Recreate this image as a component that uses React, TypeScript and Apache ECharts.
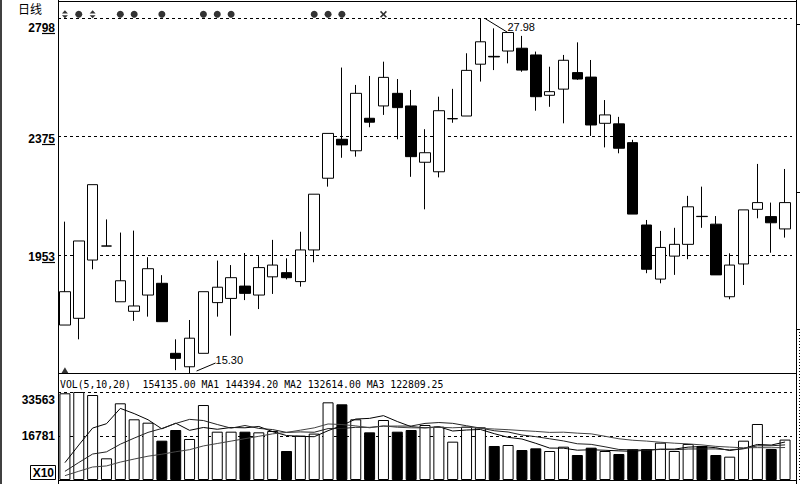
import React, { useEffect, useRef } from "react";
import * as echarts from "echarts";

// ---------- data ----------
const categories = Array.from({ length: 53 }, (_, i) => `D${i + 1}`);

const opens = [17.03, 17.27, 19.35, 19.85, 17.86, 17.52, 18.10, 18.52, 16.02, 15.54, 16.02, 17.83, 17.98, 18.42, 18.10, 18.75, 18.90, 18.58, 19.71, 22.27, 23.66, 23.25, 24.41, 24.85, 25.30, 24.85, 22.84, 22.50, 24.39, 24.49, 26.34, 26.62, 26.81, 26.91, 26.67, 25.23, 25.45, 26.04, 25.88, 24.23, 24.21, 23.54, 20.60, 18.67, 19.49, 19.91, 20.91, 20.63, 18.04, 19.21, 21.16, 20.90, 20.46];
const closes = [18.22, 20.03, 22.04, 19.85, 18.61, 17.71, 19.04, 17.15, 15.84, 16.56, 18.22, 18.38, 18.72, 18.16, 19.08, 19.17, 18.72, 19.71, 21.70, 23.87, 23.46, 25.30, 24.27, 25.87, 24.79, 23.04, 23.18, 24.68, 24.40, 26.12, 27.14, 26.60, 27.47, 26.13, 25.18, 25.36, 26.48, 25.81, 24.17, 24.53, 23.34, 20.99, 19.02, 19.80, 19.91, 21.25, 20.90, 18.82, 19.17, 21.14, 21.40, 20.68, 21.40];
const lows = [17.03, 16.52, 19.02, 19.85, 17.86, 17.18, 17.33, 17.15, 15.42, 15.30, 16.02, 17.33, 16.65, 17.92, 17.60, 18.14, 18.66, 18.40, 19.27, 21.97, 23.00, 23.04, 24.09, 24.53, 23.66, 22.32, 21.16, 22.30, 24.25, 24.49, 25.72, 26.13, 26.37, 26.07, 24.68, 24.82, 24.23, 25.78, 23.78, 23.37, 23.16, 20.99, 18.88, 18.52, 18.82, 19.38, 20.50, 18.82, 17.95, 18.46, 20.84, 19.61, 20.15];
const highs = [20.72, 20.03, 22.04, 20.80, 20.33, 20.40, 19.45, 18.81, 16.52, 17.21, 18.22, 19.33, 19.17, 19.60, 19.49, 20.07, 19.41, 20.36, 21.70, 23.87, 26.22, 25.60, 25.92, 26.43, 25.81, 25.42, 24.02, 25.18, 25.46, 26.73, 27.98, 27.62, 27.47, 27.35, 26.79, 26.25, 26.67, 27.12, 26.49, 25.06, 24.46, 23.64, 20.78, 20.39, 20.50, 21.64, 21.97, 20.92, 19.59, 21.14, 22.78, 21.40, 22.60];

// volume in axis units (x10)
const volumes = [33070, 33560, 32420, 8270, 29250, 23150, 21860, 15000, 19070, 15640, 28600, 18430, 18430, 18430, 18180, 18700, 11060, 16910, 17700, 29630, 28870, 23150, 18180, 22880, 18430, 19070, 20980, 20340, 14620, 20340, 20090, 12970, 13350, 11440, 12080, 11060, 12710, 9535, 12330, 11060, 9920, 11820, 11820, 14240, 11060, 13730, 12970, 9535, 8900, 15000, 21360, 11820, 15413];

const maPeriods = [5, 10, 20];
const dotSignals = [1, 4, 5, 7, 10, 11, 12, 18, 19, 20];
const arrowSignals = [0, 2];
const crossSignals = [23];
const bottomMarker = [0];

const periodLabel = "日线";
const volTitle = "VOL(5,10,20)  154135.00 MA1 144394.20 MA2 132614.00 MA3 122809.25";
const volUnit = "X10";
const highIndex = 30;
const lowIndex = 9;

const PRICE_MIN = 15.3;
const PRICE_MAX = 28.56;
const PRICE_STEP = (27.98 - 15.3) / 3;
const PRICE_SPAN = PRICE_MAX - PRICE_MIN;
const SIGNAL_LEVEL = 28.12;
const MARKER_LEVEL = 15.42;
const VOL_MAX = 40430;
const VOL_STEP = 16781.5;

const numFont = '"Liberation Sans", Arial, sans-serif';

function movingAvg(n: number) {
  return volumes.map((_, i) => {
    let s = 0;
    for (let j = Math.max(0, i - n + 1); j <= i; j++) s += volumes[j];
    return +(s / n).toFixed(1);
  });
}

export default function App() {
  const ref = useRef<HTMLDivElement>(null);
  useEffect(() => {
    if (!ref.current) return;
    const chart = echarts.init(ref.current, undefined, { renderer: "svg" });

    const candleData = opens.map((o, i) => [o, closes[i], lows[i], highs[i]]);
    const volData = volumes.map((v, i) => ({
      value: v,
      itemStyle: { color: closes[i] >= opens[i] ? "#fff" : "#000" },
    }));
    const lbl = { fontFamily: numFont, fontWeight: "bold" as const, fontSize: 12, color: "#000" };

    const option: any = {
      animation: false,
      backgroundColor: "#fff",
      grid: [
        { left: 58, top: 2, width: 734, height: 371.5, outerBoundsMode: "none", containLabel: false },
        { left: 58, top: 374, width: 734, height: 106, outerBoundsMode: "none", containLabel: false },
      ],
      xAxis: [
        { type: "category", data: categories, gridIndex: 0, boundaryGap: true, show: false },
        { type: "category", data: categories, gridIndex: 1, boundaryGap: true, show: false },
      ],
      yAxis: [
        { type: "value", gridIndex: 0, min: PRICE_MIN, max: PRICE_MAX, show: false },
        {
          type: "value",
          gridIndex: 0,
          position: "left",
          min: 0,
          max: PRICE_SPAN,
          interval: PRICE_STEP,
          axisLine: { show: false },
          axisTick: { show: false },
          splitLine: { show: true, showMinLine: false, showMaxLine: false, lineStyle: { color: "#000", type: [3, 3], width: 1 } },
          axisLabel: {
            ...lbl,
            margin: 3,
            formatter: (v: number) => {
              if (v < 0.001 || v > PRICE_SPAN - 0.001) return "";
              const s = String(Math.round((v + PRICE_MIN) * 100));
              return v + PRICE_STEP > PRICE_SPAN ? `{t|${s}}` : `{n|${s}}`;
            },
            rich: { n: { ...lbl, padding: [4, 0, 0, 0] }, t: { ...lbl, padding: [20, 0, 0, 0] } },
          },
        },
        {
          type: "value",
          gridIndex: 1,
          position: "left",
          min: 0,
          max: VOL_MAX,
          interval: VOL_STEP,
          axisLine: { show: false },
          axisTick: { show: false },
          splitLine: { show: true, showMinLine: false, showMaxLine: false, lineStyle: { color: "#000", type: [3, 3], width: 1 } },
          axisLabel: {
            ...lbl,
            margin: 3,
            formatter: (v: number) => {
              if (v <= 0 || v >= VOL_MAX) return "";
              const s = String(Math.floor(v));
              return v + VOL_STEP > VOL_MAX ? `{t|${s}}` : `{n|${s}}`;
            },
            rich: { n: { ...lbl }, t: { ...lbl, padding: [16, 0, 0, 0] } },
          },
        },
      ],
      series: [
        {
          type: "candlestick",
          xAxisIndex: 0,
          yAxisIndex: 0,
          data: candleData,
          barWidth: 11,
          itemStyle: {
            color: "#fff",
            color0: "#000",
            borderColor: "#000",
            borderColor0: "#000",
            borderColorDoji: "#000",
            borderWidth: 1,
          },
          z: 3,
        },
        {
          type: "scatter",
          xAxisIndex: 0,
          yAxisIndex: 0,
          symbol: "circle",
          symbolSize: 7,
          itemStyle: { color: "#000" },
          data: dotSignals.map((i) => [i, SIGNAL_LEVEL]),
          silent: true,
        },
        {
          type: "scatter",
          xAxisIndex: 0,
          yAxisIndex: 0,
          symbol: "path://M0,4L3,0L6,4Z M0,6L6,6L3,10Z",
          symbolSize: [6, 8],
          itemStyle: { color: "#000" },
          data: arrowSignals.map((i) => [i, SIGNAL_LEVEL]),
          silent: true,
        },
        {
          type: "scatter",
          xAxisIndex: 0,
          yAxisIndex: 0,
          symbol: "path://M0,1L1,0L3,2L5,0L6,1L4,3L6,5L5,6L3,4L1,6L0,5L2,3Z",
          symbolSize: 7,
          itemStyle: { color: "#000" },
          data: crossSignals.map((i) => [i, SIGNAL_LEVEL]),
          silent: true,
        },
        {
          type: "scatter",
          xAxisIndex: 0,
          yAxisIndex: 0,
          symbol: "triangle",
          symbolSize: [7, 6],
          itemStyle: { color: "#000" },
          data: bottomMarker.map((i) => [i, MARKER_LEVEL]),
          silent: true,
        },
        {
          type: "bar",
          xAxisIndex: 1,
          yAxisIndex: 2,
          data: volData,
          barWidth: 11,
          itemStyle: { borderColor: "#000", borderWidth: 1 },
          z: 3,
        },
        ...maPeriods.map((p, k) => ({
          type: "line",
          xAxisIndex: 1,
          yAxisIndex: 2,
          data: movingAvg(p),
          symbol: "none",
          showSymbol: false,
          lineStyle: { color: ["#000", "#222", "#444"][k], width: 1 },
          z: 5,
          silent: true,
        })),
      ],
    };

    chart.setOption(option);

    const g: any[] = [];
    const frame = { stroke: "#000", lineWidth: 1 };
    const addLine = (x1: number, y1: number, x2: number, y2: number, style: any = frame) =>
      g.push({ type: "line", z: 100, silent: true, shape: { x1, y1, x2, y2 }, style });

    // frame
    addLine(1, 0, 1, 484, { stroke: "#000", lineWidth: 1.5 });
    addLine(58.5, 0, 58.5, 484);
    addLine(796.5, 0, 796.5, 484);
    addLine(58, 1.5, 797, 1.5);
    addLine(58, 373.5, 797, 373.5);
    addLine(58, 480.5, 797, 480.5);
    [24, 192, 329].forEach((y) => addLine(797, y + 0.5, 800, y + 0.5));
    addLine(799.5, 332, 799.5, 480, { stroke: "#000", lineWidth: 1, lineDash: [1, 2] });

    // underline under last two digits of price labels
    for (let k = 1; k <= 3; k++) {
      const py = chart.convertToPixel({ yAxisIndex: 1 } as any, k * PRICE_STEP) as unknown as number;
      const shift = k === 3 ? 10 : 2;
      const y = Math.round(py + shift + 5) + 0.5;
      addLine(42, y, 55, y, { stroke: "#000", lineWidth: 1.2 });
    }

    // high / low annotations
    const hp = chart.convertToPixel({ seriesIndex: 0 }, [highIndex, highs[highIndex]]) as number[];
    const lp = chart.convertToPixel({ seriesIndex: 0 }, [lowIndex, lows[lowIndex]]) as number[];
    addLine(hp[0] + 5, hp[1] + 0.5, hp[0] + 27, hp[1] + 14);
    g.push({
      type: "text", z: 100, silent: true, x: hp[0] + 27, y: hp[1] + 9,
      style: { text: highs[highIndex].toFixed(2), font: `11px ${numFont}`, fill: "#000", verticalAlign: "middle", align: "left" },
    });
    addLine(lp[0] + 7, lp[1] - 2.5, lp[0] + 26, lp[1] - 10.5);
    g.push({
      type: "text", z: 100, silent: true, x: lp[0] + 26, y: lp[1] - 14,
      style: { text: lows[lowIndex].toFixed(2), font: `11px ${numFont}`, fill: "#000", verticalAlign: "middle", align: "left" },
    });

    // texts
    g.push({
      type: "text", z: 100, silent: true, x: 18, y: 8,
      style: { text: periodLabel, font: '12px "Noto Sans CJK SC", sans-serif', fill: "#000", verticalAlign: "middle" },
    });
    g.push({
      type: "text", z: 100, silent: true, x: 60, y: 384,
      style: { text: volTitle, font: '9.8px "DejaVu Sans Mono", monospace', fill: "#000", verticalAlign: "middle" },
    });
    g.push({
      type: "rect", z: 100, silent: true, shape: { x: 30.5, y: 465.5, width: 25, height: 14 },
      style: { fill: "none", stroke: "#000", lineWidth: 1 },
    });
    g.push({
      type: "text", z: 101, silent: true, x: 54, y: 473,
      style: { text: volUnit, font: `bold 12px ${numFont}`, fill: "#000", verticalAlign: "middle", align: "right" },
    });

    chart.setOption({ graphic: g });

    return () => chart.dispose();
  }, []);

  return <div ref={ref} style={{ position: "fixed", left: 0, top: 0, width: 800, height: 484 }} />;
}
